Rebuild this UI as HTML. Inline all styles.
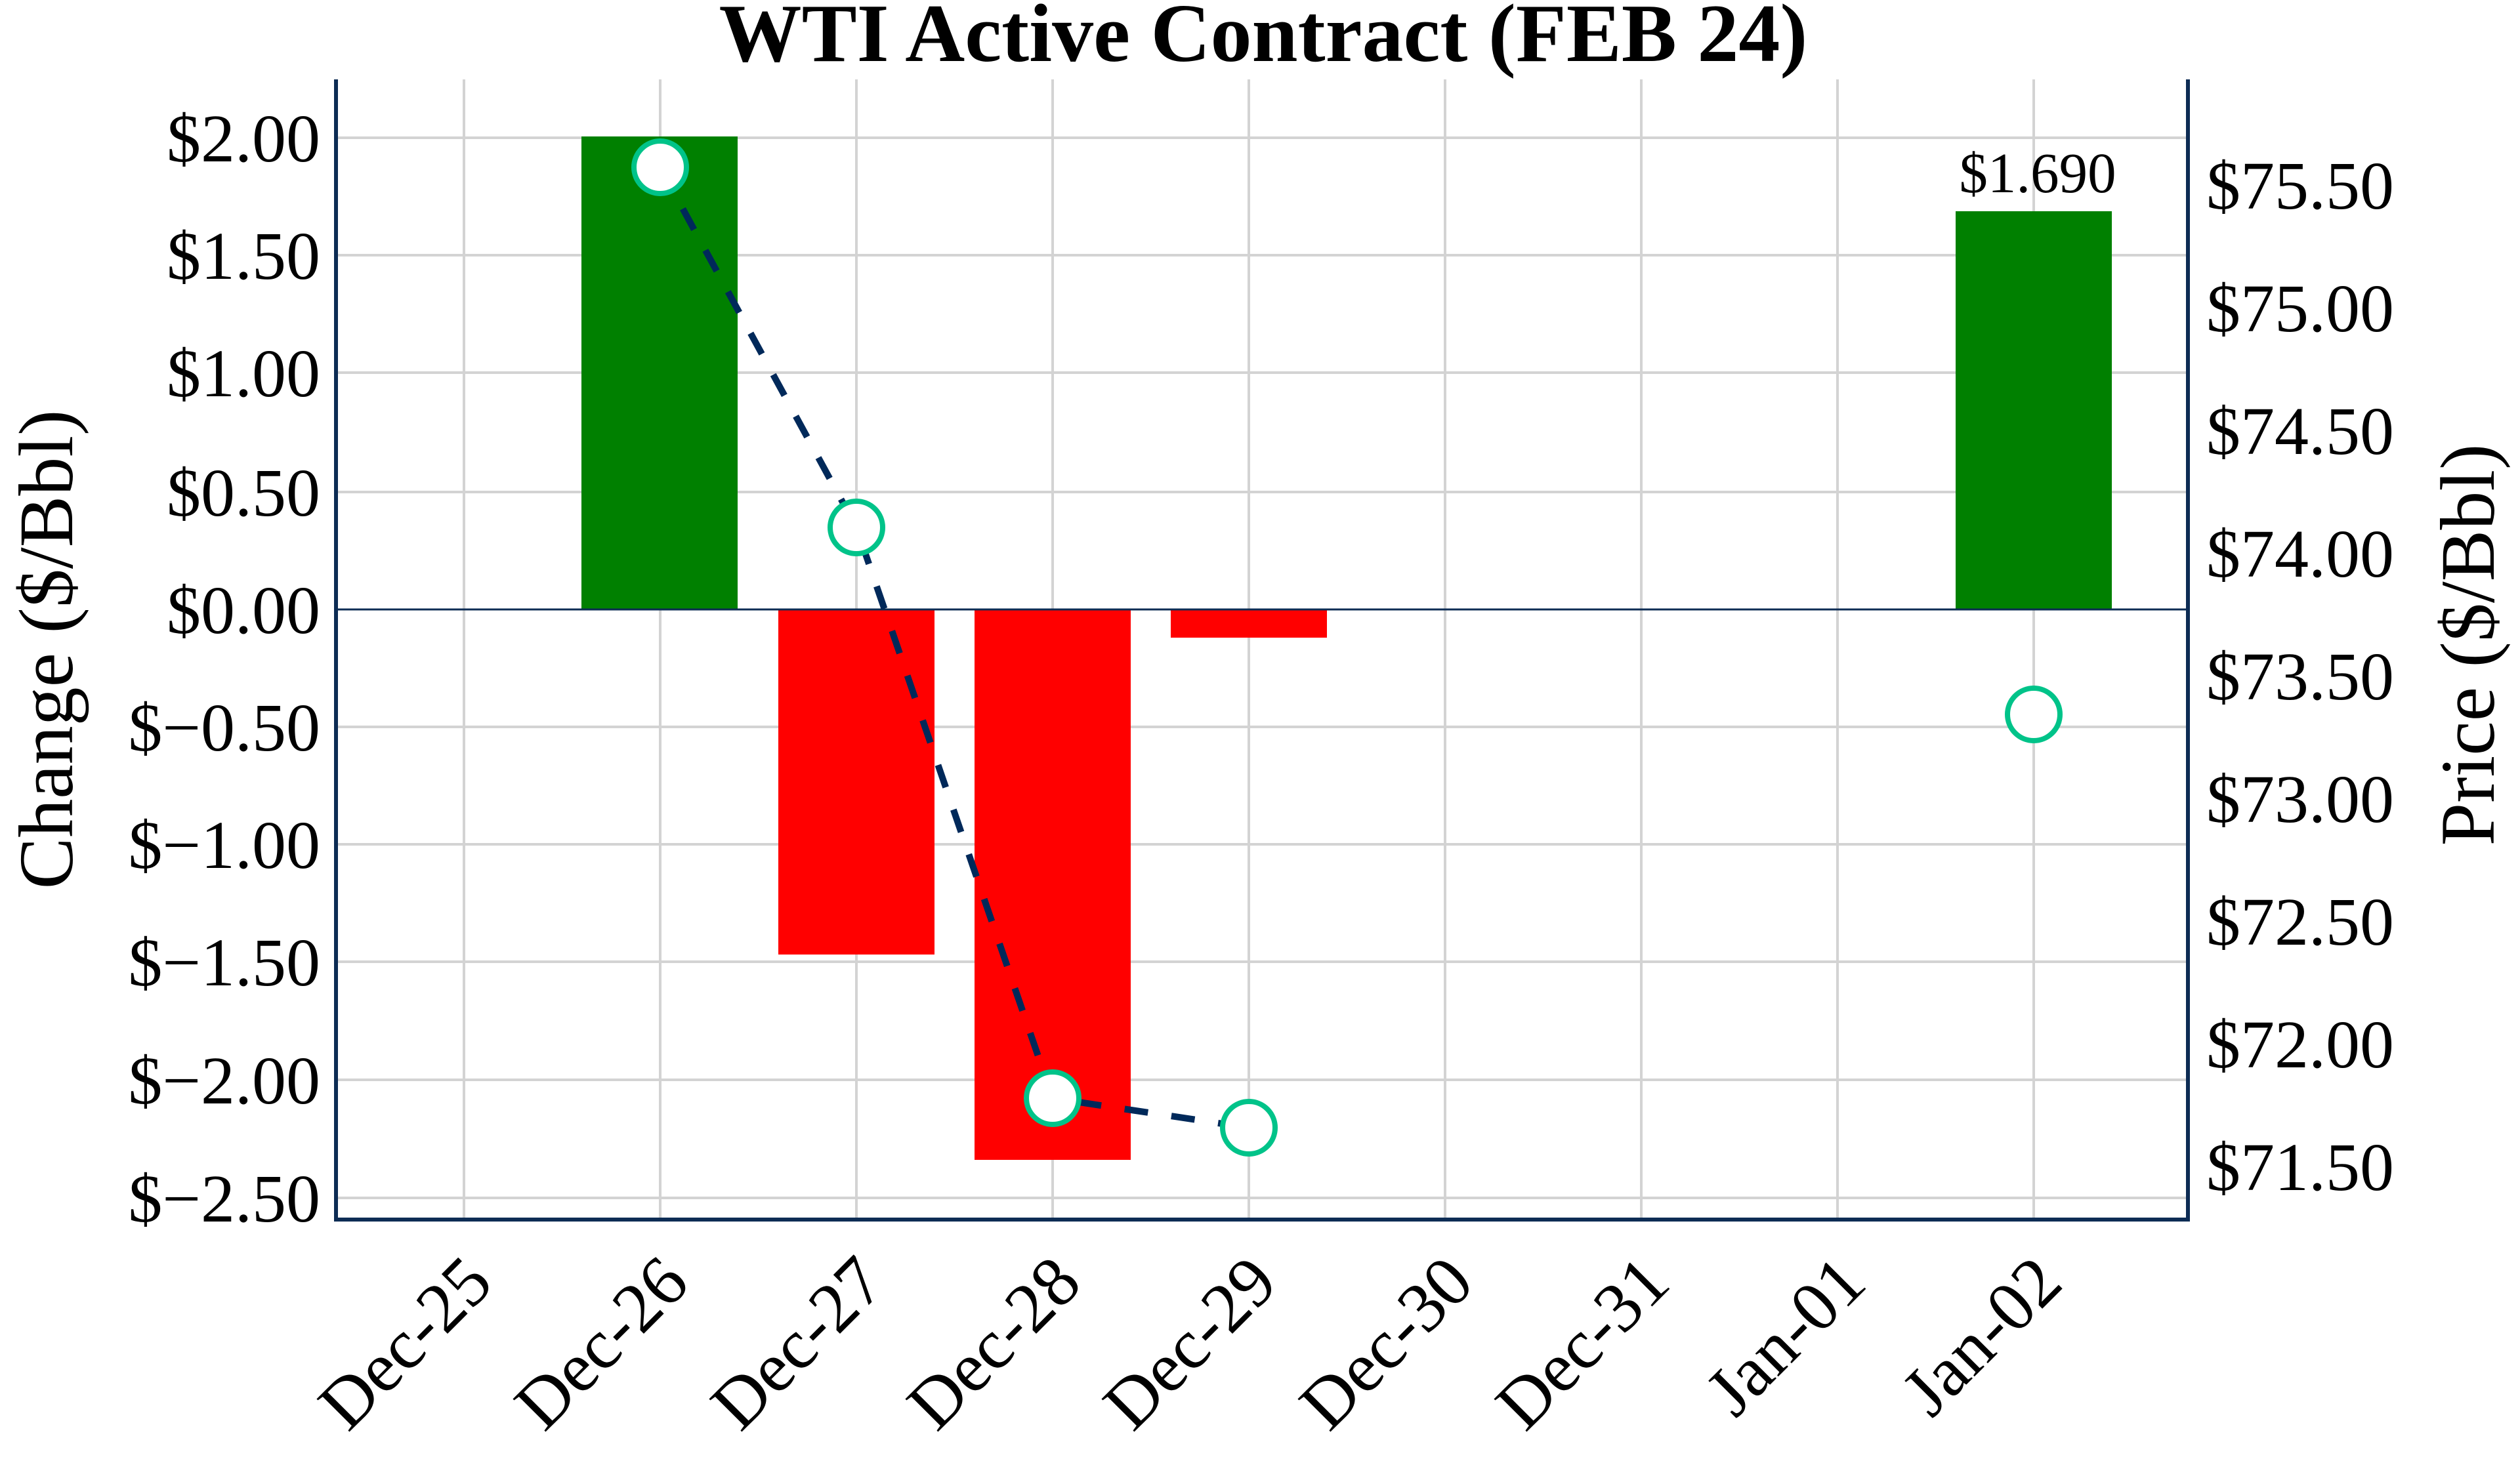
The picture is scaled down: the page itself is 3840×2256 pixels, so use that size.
<!DOCTYPE html>
<html><head><meta charset="utf-8"><style>
html,body{margin:0;padding:0;background:#fff;}
svg{display:block;}
text{font-family:"Liberation Serif",serif;fill:#000;}
</style></head><body>
<svg width="3840" height="2256" viewBox="0 0 3840 2256" xmlns="http://www.w3.org/2000/svg">
<rect width="3840" height="2256" fill="#fff"/>
<g stroke="#d3d3d3" stroke-width="4">
<line x1="707" y1="121" x2="707" y2="1859"/>
<line x1="1006" y1="121" x2="1006" y2="1859"/>
<line x1="1305" y1="121" x2="1305" y2="1859"/>
<line x1="1604" y1="121" x2="1604" y2="1859"/>
<line x1="1903" y1="121" x2="1903" y2="1859"/>
<line x1="2202" y1="121" x2="2202" y2="1859"/>
<line x1="2501" y1="121" x2="2501" y2="1859"/>
<line x1="2800" y1="121" x2="2800" y2="1859"/>
<line x1="3099" y1="121" x2="3099" y2="1859"/>
<line x1="512" y1="210" x2="3334" y2="210"/>
<line x1="512" y1="389" x2="3334" y2="389"/>
<line x1="512" y1="568" x2="3334" y2="568"/>
<line x1="512" y1="750" x2="3334" y2="750"/>
<line x1="512" y1="1108" x2="3334" y2="1108"/>
<line x1="512" y1="1287" x2="3334" y2="1287"/>
<line x1="512" y1="1466" x2="3334" y2="1466"/>
<line x1="512" y1="1646" x2="3334" y2="1646"/>
<line x1="512" y1="1826" x2="3334" y2="1826"/>
</g>
<rect x="886" y="208" width="238" height="721" fill="#008000"/>
<rect x="1186" y="929" width="238" height="526" fill="#ff0000"/>
<rect x="1485" y="929" width="238" height="839" fill="#ff0000"/>
<rect x="1784" y="929" width="238" height="43" fill="#ff0000"/>
<rect x="2980" y="322" width="238" height="607" fill="#008000"/>
<line x1="512" y1="929" x2="3334" y2="929" stroke="#0d2c54" stroke-width="3"/>
<polyline points="1006,255 1305,804 1604,1674 1903,1719" fill="none" stroke="#00295a" stroke-width="10" stroke-dasharray="36,36"/>
<g fill="#fff" stroke="#00c389" stroke-width="8">
<circle cx="1006" cy="255" r="40"/>
<circle cx="1305" cy="804" r="40"/>
<circle cx="1604" cy="1674" r="40"/>
<circle cx="1903" cy="1719" r="40"/>
<circle cx="3099" cy="1089" r="40"/>
</g>
<g stroke="#0d2c54" stroke-width="6" fill="none">
<line x1="512" y1="121" x2="512" y2="1862"/>
<line x1="3334" y1="121" x2="3334" y2="1862"/>
<line x1="509" y1="1859" x2="3337" y2="1859"/>
</g>
<text x="1925" y="93" font-size="126" font-weight="bold" text-anchor="middle">WTI Active Contract (FEB 24)</text>
<g font-size="104" text-anchor="end">
<text x="488" y="246">$2.00</text>
<text x="488" y="425">$1.50</text>
<text x="488" y="604">$1.00</text>
<text x="488" y="786">$0.50</text>
<text x="488" y="965">$0.00</text>
<text x="488" y="1144">$−0.50</text>
<text x="488" y="1323">$−1.00</text>
<text x="488" y="1502">$−1.50</text>
<text x="488" y="1682">$−2.00</text>
<text x="488" y="1862">$−2.50</text>
</g>
<g font-size="104" text-anchor="start">
<text x="3362" y="318">$75.50</text>
<text x="3362" y="505">$75.00</text>
<text x="3362" y="692">$74.50</text>
<text x="3362" y="879">$74.00</text>
<text x="3362" y="1066">$73.50</text>
<text x="3362" y="1253">$73.00</text>
<text x="3362" y="1440">$72.50</text>
<text x="3362" y="1627">$72.00</text>
<text x="3362" y="1814">$71.50</text>
</g>
<text x="3105" y="293" font-size="87" text-anchor="middle">$1.690</text>
<text transform="translate(110,990) rotate(-90)" font-size="118" text-anchor="middle">Change ($/Bbl)</text>
<text transform="translate(3800,983) rotate(-90)" font-size="118" text-anchor="middle">Price ($/Bbl)</text>
<g font-size="108" text-anchor="end">
<text transform="translate(755,1960) rotate(-45)">Dec-25</text>
<text transform="translate(1054,1960) rotate(-45)">Dec-26</text>
<text transform="translate(1353,1960) rotate(-45)">Dec-27</text>
<text transform="translate(1652,1960) rotate(-45)">Dec-28</text>
<text transform="translate(1951,1960) rotate(-45)">Dec-29</text>
<text transform="translate(2250,1960) rotate(-45)">Dec-30</text>
<text transform="translate(2549,1960) rotate(-45)">Dec-31</text>
<text transform="translate(2848,1960) rotate(-45)">Jan-01</text>
<text transform="translate(3147,1960) rotate(-45)">Jan-02</text>
</g>
</svg>
</body></html>
